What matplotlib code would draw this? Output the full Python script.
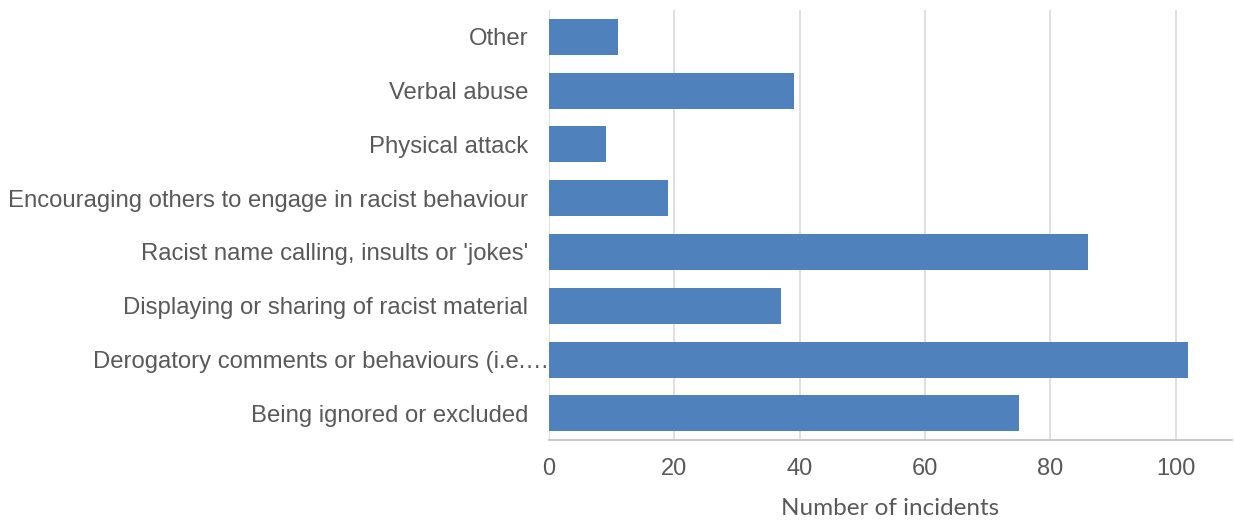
import matplotlib.pyplot as plt
import matplotlib.transforms as mtransforms

categories = ["Being ignored or excluded",
              "Derogatory comments or behaviours (i.e.\u2026",
              "Displaying or sharing of racist material",
              "Racist name calling, insults or 'jokes'",
              "Encouraging others to engage in racist behaviour",
              "Physical attack",
              "Verbal abuse",
              "Other"]
counts = [75, 102, 37, 86, 19, 9, 39, 11]
xticks = [0, 20, 40, 60, 80, 100]

plt.rcParams['font.family'] = ['Liberation Sans', 'DejaVu Sans']
txt = '#595959'

fig = plt.figure(figsize=(12.34, 5.21), dpi=100)
ax = fig.add_axes([0.445, 0.155, 0.553, 0.826])

ax.barh(range(len(categories)), counts, height=0.67, color='#4F81BD', zorder=3)
ax.set_ylim(-0.5, len(categories) - 0.5)
ax.set_xlim(0, 108.9)
ax.set_xticks(xticks)
ax.set_yticks(range(len(categories)))
ax.set_yticklabels(categories)
ax.grid(axis='x', color='#D9D9D9', linewidth=1.2, zorder=0)

for s in ['top', 'right', 'left']:
    ax.spines[s].set_visible(False)
ax.spines['bottom'].set_color('#BFBFBF')
ax.spines['bottom'].set_linewidth(1.2)

ax.tick_params(axis='y', length=0, pad=15, labelsize=17.2, labelcolor=txt)
ax.tick_params(axis='x', length=0, pad=13, labelsize=17, labelcolor=txt)

# the truncated label runs right up to the axis
lab = ax.get_yticklabels()[1]
lab.set_transform(lab.get_transform() + mtransforms.ScaledTranslation(21 / 100, 0, fig.dpi_scale_trans))

ax.set_xlabel('Number of incidents', fontsize=17.5, color=txt, labelpad=13,
              family=['Lato', 'DejaVu Sans'])

fig.savefig('out.png', dpi=100)
